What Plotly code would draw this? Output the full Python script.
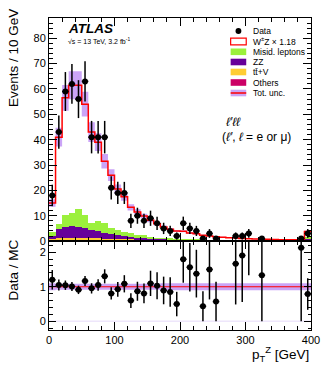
import plotly.graph_objects as go

# ---- data (Events / 10 GeV), bin centres 5 .. 395 GeV, last bin includes overflow
bin_centres = list(range(5, 400, 10))
bin_edges = list(range(0, 410, 10))

data_counts = [18, 43, 59, 62, 56, 63, 41, 41, 41, 21,
               19, 19, 8, 10, 8, 9, 7, 5, 4, 2,
               7, 5, 4, 1, 3, 1, 0, 0, 2, 2,
               3, 0, 1, 0, 0, 0, 0, 0, 1, 3]

others = [0.5, 0.6, 0.6, 0.6, 0.6, 0.5, 0.5, 0.5, 0.4, 0.4,
          0.4, 0.3, 0.3, 0.3, 0.3, 0.2, 0.2, 0.2, 0.2, 0.2,
          0.15, 0.15, 0.1, 0.1, 0.1, 0.1, 0.1, 0.1, 0.1, 0.1,
          0.1, 0.05, 0.05, 0.05, 0.05, 0.05, 0.05, 0.05, 0.05, 0.3]
ttv = [0.3, 0.5, 0.6, 0.7, 0.7, 0.7, 0.6, 0.6, 0.6, 0.5,
       0.5, 0.5, 0.4, 0.4, 0.4, 0.3, 0.3, 0.3, 0.3, 0.2,
       0.2, 0.2, 0.2, 0.15, 0.15, 0.15, 0.1, 0.1, 0.1, 0.1,
       0.1, 0.1, 0.1, 0.05, 0.05, 0.05, 0.05, 0.05, 0.05, 0.3]
zz = [1.4, 3.7, 4.4, 4.6, 4.3, 3.9, 3.3, 2.9, 2.3, 1.9,
      1.6, 1.3, 1.0, 0.7, 0.5, 0.5, 0.4, 0.35, 0.3, 0.25,
      0.2, 0.2, 0.2, 0.15, 0.15, 0.15, 0.1, 0.1, 0.1, 0.1,
      0.1, 0.1, 0.1, 0.1, 0.05, 0.05, 0.05, 0.05, 0.05, 0.3]
misid = [1.3, 2.0, 4.6, 5.1, 6.9, 5.2, 2.6, 4.0, 3.9, 2.2,
         2.0, 1.4, 1.6, 1.1, 1.1, 0.5, 0.5, 0.4, 0.4, 0.3,
         0.3, 0.3, 0.2, 0.2, 0.2, 0.2, 0.15, 0.15, 0.15, 0.15,
         0.1, 0.1, 0.1, 0.1, 0.1, 0.1, 0.1, 0.1, 0.1, 0.6]
wz = [11.5, 34.2, 46.3, 50.5, 49.0, 43.7, 36.0, 31.0, 24.3, 21.0,
      16.0, 14.0, 10.0, 9.0, 7.6, 6.7, 5.4, 4.35, 3.5, 3.05,
      3.05, 2.35, 2.2, 1.7, 1.4, 1.15, 1.1, 0.9, 0.75, 0.6,
      0.55, 0.5, 0.4, 0.38, 0.37, 0.32, 0.27, 0.23, 0.22, 2.3]

# relative total uncertainty per bin
rel_unc = [0.10, 0.09, 0.09, 0.09, 0.09, 0.09, 0.09, 0.09, 0.09, 0.09,
           0.09, 0.09, 0.09, 0.09, 0.09, 0.09, 0.09, 0.10, 0.10, 0.10,
           0.10, 0.10, 0.10, 0.10, 0.10, 0.10, 0.10, 0.10, 0.10, 0.10,
           0.10, 0.10, 0.10, 0.10, 0.10, 0.10, 0.10, 0.10, 0.10, 0.10]

legend_labels = ["Data", "W<sup>±</sup>Z × 1.18", "Misid. leptons", "ZZ", "tt̄+V", "Others", "Tot. unc."]

C_MISID = "#9bf03c"
C_ZZ = "#660099"
C_TTV = "#ffcc33"
C_OTH = "#cc0066"
C_UNC = "rgba(160,90,240,0.55)"
C_RED = "#ff0000"
FONT = "Liberation Sans, Arial, Helvetica, sans-serif"

total = [a + b + c + d + e for a, b, c, d, e in zip(others, ttv, zz, misid, wz)]

fig = go.Figure()

# stack (bottom -> top)
for vals, col in [(others, C_OTH), (ttv, C_TTV), (zz, C_ZZ), (misid, C_MISID), (wz, "white")]:
    fig.add_trace(go.Bar(x=bin_centres, y=vals, width=10, marker=dict(color=col, line=dict(width=0)),
                         xaxis="x", yaxis="y", showlegend=False, hoverinfo="skip"))

# uncertainty band
step_x = bin_edges
lo = [t * (1 - u) for t, u in zip(total, rel_unc)]
hi = [t * (1 + u) for t, u in zip(total, rel_unc)]
fig.add_trace(go.Scatter(x=step_x, y=lo + [lo[-1]], mode="lines", line=dict(width=0, shape="hv"),
                         xaxis="x", yaxis="y", showlegend=False, hoverinfo="skip"))
fig.add_trace(go.Scatter(x=step_x, y=hi + [hi[-1]], mode="lines", line=dict(width=0, shape="hv"),
                         fill="tonexty", fillcolor=C_UNC, xaxis="x", yaxis="y", showlegend=False, hoverinfo="skip"))

# total MC outline
fig.add_trace(go.Scatter(x=step_x, y=total + [total[-1]], mode="lines",
                         line=dict(color=C_RED, width=1.5, shape="hv"),
                         xaxis="x", yaxis="y", showlegend=False, hoverinfo="skip"))

# data points with sqrt(N) errors, empty bins not drawn
px_, py_, err = [], [], []
rx, ry, rerr = [], [], []
for x, n, t in zip(bin_centres, data_counts, total):
    if n <= 0:
        continue
    e = n ** 0.5
    px_.append(x); py_.append(n); err.append(e)
    rx.append(x); ry.append(n / t); rerr.append(e / t)

fig.add_trace(go.Scatter(x=px_, y=py_, mode="markers", marker=dict(color="black", size=6),
                         error_y=dict(type="data", array=err, color="black", thickness=1.5, width=0),
                         error_x=dict(type="constant", value=5, color="black", thickness=1.5, width=0),
                         xaxis="x", yaxis="y", showlegend=False))

# ratio panel
rlo = [1 - u for u in rel_unc]
rhi = [1 + u for u in rel_unc]
fig.add_trace(go.Scatter(x=[0, 400], y=[0, 0], mode="lines", line=dict(color="#eee6fb", width=1.5),
                         xaxis="x2", yaxis="y2", showlegend=False, hoverinfo="skip"))
fig.add_trace(go.Scatter(x=step_x, y=rlo + [rlo[-1]], mode="lines", line=dict(width=0, shape="hv"),
                         xaxis="x2", yaxis="y2", showlegend=False, hoverinfo="skip"))
fig.add_trace(go.Scatter(x=step_x, y=rhi + [rhi[-1]], mode="lines", line=dict(width=0, shape="hv"),
                         fill="tonexty", fillcolor=C_UNC, xaxis="x2", yaxis="y2", showlegend=False, hoverinfo="skip"))
fig.add_trace(go.Scatter(x=[0, 400], y=[1, 1], mode="lines", line=dict(color=C_RED, width=1.2),
                         xaxis="x2", yaxis="y2", showlegend=False, hoverinfo="skip"))
fig.add_trace(go.Scatter(x=rx, y=ry, mode="markers", marker=dict(color="black", size=6),
                         error_y=dict(type="data", array=rerr, color="black", thickness=1.5, width=0),
                         error_x=dict(type="constant", value=5, color="black", thickness=1.5, width=0),
                         xaxis="x2", yaxis="y2", showlegend=False))

axis_common = dict(ticks="inside", showline=True, linecolor="black", linewidth=1, mirror="allticks",
                   tickcolor="black", tickwidth=1, showgrid=False, zeroline=False,
                   tickfont=dict(family=FONT, size=11, color="black"))

fig.update_layout(
    width=332, height=370,
    margin=dict(l=49, r=14, t=18, b=40),
    paper_bgcolor="white", plot_bgcolor="white",
    barmode="stack", bargap=0,
    font=dict(family=FONT, color="black"),
    xaxis=dict(domain=[0, 1], range=[0, 400], anchor="y", showticklabels=False, dtick=100, tick0=0,
               ticklen=8, minor=dict(dtick=20, ticklen=4, ticks="inside", tickcolor="black"), **axis_common),
    yaxis=dict(domain=[0.285, 1], range=[0.001, 88], anchor="x", dtick=10, tick0=0,
               ticklen=8, minor=dict(dtick=2, ticklen=4, ticks="inside", tickcolor="black"), **axis_common),
    xaxis2=dict(domain=[0, 1], range=[0, 400], anchor="y2", matches="x", dtick=100, tick0=0,
                ticklen=8, minor=dict(dtick=20, ticklen=4, ticks="inside", tickcolor="black"), **axis_common),
    yaxis2=dict(domain=[0, 0.285], range=[-0.25, 2.32], anchor="x2", dtick=1, tick0=0,
                ticklen=7, minor=dict(dtick=0.2, ticklen=3.5, ticks="inside", tickcolor="black"), **axis_common),
)


def px2x(p):
    return (p - 49) / 269


def px2y(p):
    return (330 - p) / 312


ann = []
ann.append(dict(text="<b><i>ATLAS</i></b>", x=px2x(66), y=px2y(28), xanchor="left", yanchor="middle",
                font=dict(size=13.5)))
ann.append(dict(text="√s = 13 TeV, 3.2 fb<sup>-1</sup>", x=px2x(66), y=px2y(41), xanchor="left",
                yanchor="middle", font=dict(size=7)))
ann.append(dict(text="<i>ℓ′ℓℓ</i>", x=px2x(229), y=px2y(122), xanchor="left", yanchor="middle",
                font=dict(size=12)))
ann.append(dict(text="(<i>ℓ′</i>, <i>ℓ</i> = e or μ)", x=px2x(225), y=px2y(137), xanchor="left",
                yanchor="middle", font=dict(size=12)))
ann.append(dict(text="Events / 10 GeV", x=px2x(13), y=px2y(7), xanchor="center", yanchor="top",
                textangle=-90, font=dict(size=13.5)))
ann.append(dict(text="Data / MC", x=px2x(13), y=px2y(237), xanchor="center", yanchor="top",
                textangle=-90, font=dict(size=13.5)))
ann.append(dict(text="p<sub>T</sub><sup>Z</sup> [GeV]", x=1.0, y=px2y(354), xanchor="right",
                yanchor="middle", font=dict(size=13.5)))

# legend drawn by hand (compact ROOT-style rows)
shapes = []
row_y = [31, 41.5, 51.8, 62, 72, 82.5, 93]
sym_x0, sym_x1 = 235.5, 251.5
for lab, yy in zip(legend_labels, row_y):
    ann.append(dict(text=lab, x=px2x(256), y=px2y(yy), xanchor="left", yanchor="middle",
                    font=dict(size=8.5)))
fills = [None, "white", C_MISID, C_ZZ, C_TTV, C_OTH]
for i, (f, yy) in enumerate(zip(fills, row_y)):
    if i == 0:
        shapes.append(dict(type="circle", xref="paper", yref="paper", x0=px2x(240.5), x1=px2x(246.5),
                           y0=px2y(yy + 3), y1=px2y(yy - 3), fillcolor="black", line=dict(width=0)))
    elif i == 1:
        shapes.append(dict(type="rect", xref="paper", yref="paper", x0=px2x(sym_x0), x1=px2x(sym_x1),
                           y0=px2y(yy + 3.3), y1=px2y(yy - 3.3), fillcolor="white",
                           line=dict(color=C_RED, width=1.2)))
    else:
        shapes.append(dict(type="rect", xref="paper", yref="paper", x0=px2x(sym_x0), x1=px2x(sym_x1),
                           y0=px2y(yy + 3.3), y1=px2y(yy - 3.3), fillcolor=f, line=dict(width=0)))
shapes.append(dict(type="rect", xref="paper", yref="paper", x0=px2x(sym_x0), x1=px2x(sym_x1),
                   y0=px2y(row_y[6] + 3.3), y1=px2y(row_y[6] - 3.3), fillcolor=C_UNC, line=dict(width=0)))
shapes.append(dict(type="line", xref="paper", yref="paper", x0=px2x(sym_x0), x1=px2x(sym_x1),
                   y0=px2y(row_y[6]), y1=px2y(row_y[6]), line=dict(color=C_RED, width=1.5)))

for a in ann:
    a.update(xref="paper", yref="paper", showarrow=False)
fig.update_layout(annotations=ann, shapes=shapes)

fig.write_html("out.html", config={"displayModeBar": False},
               post_script="document.body.style.margin='0px';")
